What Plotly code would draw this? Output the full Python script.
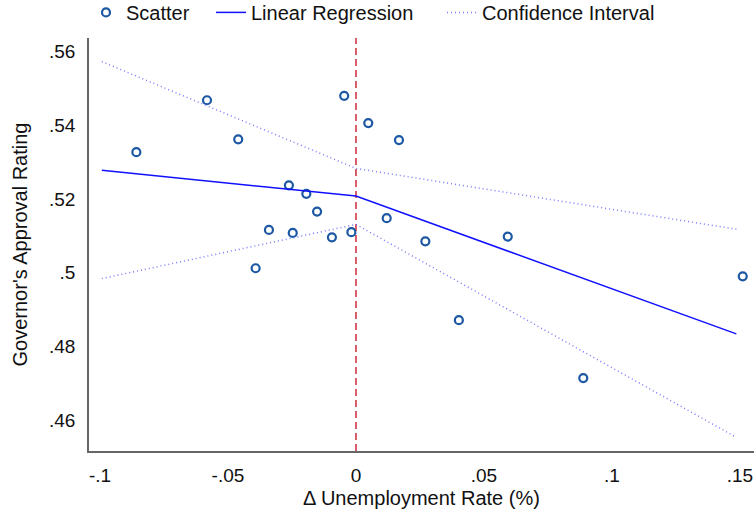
import plotly.graph_objects as go

# Scatter data: change in unemployment rate vs governor's approval rating
unemp_change = [-0.0858, -0.0582, -0.0460, -0.0046, 0.0048, 0.0168, -0.0262, -0.0194,
                -0.0152, -0.0340, -0.0247, -0.0094, -0.0018, -0.0392, 0.0120, 0.0271,
                0.0593, 0.0402, 0.0888, 0.1511]
approval = [0.5327, 0.5468, 0.5362, 0.5480, 0.5406, 0.5360, 0.5237, 0.5214,
            0.5166, 0.5116, 0.5108, 0.5096, 0.5110, 0.5012, 0.5148, 0.5085,
            0.5098, 0.4871, 0.4714, 0.4990]

# Fitted line (kinked at 0) and confidence interval
fit_x = [-0.0993, 0.0, 0.1486]
fit_y = [0.5278, 0.5208, 0.4834]
ci_upper = [0.5573, 0.5283, 0.5118]
ci_lower = [0.4984, 0.5131, 0.4553]

x_tickvals = [-0.1, -0.05, 0, 0.05, 0.1, 0.15]
x_ticktext = ["-.1", "-.05", "0", ".05", ".1", ".15"]
y_tickvals = [0.46, 0.48, 0.50, 0.52, 0.54, 0.56]
y_ticktext = [".46", ".48", ".5", ".52", ".54", ".56"]

FONT = "Liberation Sans, Arial, Helvetica, sans-serif"

fig = go.Figure()

fig.add_trace(go.Scatter(
    x=unemp_change, y=approval, mode="markers", name="Scatter",
    marker=dict(symbol="circle-open", size=8, color="#1c58a3",
                line=dict(width=2.2, color="#1c58a3")),
    legend="legend", showlegend=True, cliponaxis=False,
))

fig.add_trace(go.Scatter(
    x=fit_x, y=fit_y, mode="lines", name="Linear Regression",
    line=dict(color="#1010ff", width=1.5),
    legend="legend2", showlegend=True,
))

fig.add_trace(go.Scatter(
    x=fit_x + [None] + fit_x, y=ci_upper + [None] + ci_lower,
    mode="lines", name="Confidence Interval",
    line=dict(color="#7a7aff", width=1.5, dash="1px,3px"),
    legend="legend3", showlegend=True,
))

fig.add_shape(type="line", xref="x", yref="paper", x0=0, x1=0, y0=0, y1=1,
              line=dict(color="#cc2a3a", width=1.5, dash="7px,4px"), layer="below")

leg_common = dict(orientation="h", yanchor="middle", y=1.062, xanchor="left",
                  font=dict(family=FONT, size=20, color="#111111"),
                  bgcolor="rgba(0,0,0,0)", itemwidth=30)

fig.update_layout(
    width=754, height=517,
    showlegend=True,
    margin=dict(l=89, r=0, t=38, b=66, autoexpand=False),
    paper_bgcolor="white", plot_bgcolor="white",
    font=dict(family=FONT, size=19, color="#111111"),
    legend=dict(x=(86 - 89) / 665, **leg_common),
    legend2=dict(x=(211 - 89) / 665, **leg_common),
    legend3=dict(x=(442 - 89) / 665, **leg_common),
    xaxis=dict(
        range=[-0.1043, 0.1555], tickvals=x_tickvals, ticktext=x_ticktext,
        showgrid=False, zeroline=False, showline=True, linecolor="#666666", linewidth=1.5,
        ticks="", ticklabelstandoff=6,
        tickfont=dict(family=FONT, size=19, color="#111111"),
        title=dict(text="Δ Unemployment Rate (%)", standoff=6,
                   font=dict(family=FONT, size=20, color="#111111")),
    ),
    yaxis=dict(
        range=[0.4516, 0.5637], tickvals=y_tickvals, ticktext=y_ticktext,
        showgrid=False, zeroline=False, showline=True, linecolor="#666666", linewidth=1.5,
        ticks="", ticklabelstandoff=8,
        tickfont=dict(family=FONT, size=19, color="#111111"),
        title=dict(text="Governor's Approval Rating", standoff=16,
                   font=dict(family=FONT, size=20, color="#111111")),
    ),
)

fig.write_html("out.html", post_script="document.body.style.margin='0';",
               config={"displayModeBar": False})
